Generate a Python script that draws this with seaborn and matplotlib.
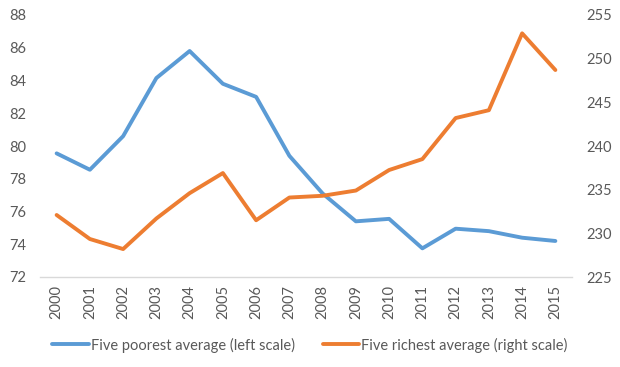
import matplotlib
matplotlib.use("Agg")
import matplotlib.pyplot as plt
import seaborn as sns
import pandas as pd

years = list(range(2000, 2016))
poorest = [79.55, 78.55, 80.6, 84.15, 85.8, 83.8, 83.0, 79.4, 77.1, 75.4, 75.55, 73.75, 74.95, 74.8, 74.4, 74.2]
richest = [232.1, 229.35, 228.2, 231.7, 234.6, 236.9, 231.5, 234.1, 234.3, 234.9, 237.25, 238.5, 243.2, 244.1, 252.9, 248.7]

labels = ["Five poorest average (left scale)", "Five richest average (right scale)"]
colors = ["#5B9BD5", "#ED7D31"]

df = pd.DataFrame({"year": years, "poorest": poorest, "richest": richest})

sns.set_style("white")
plt.rcParams["font.family"] = ["Lato", "DejaVu Sans"]
text_color = "#595959"

fig = plt.figure(figsize=(6.2, 3.67), dpi=100)
ax = fig.add_axes([40 / 620, 1 - 277 / 367, 532 / 620, 262 / 367])
ax2 = ax.twinx()

sns.lineplot(data=df, x="year", y="poorest", ax=ax, color=colors[0], linewidth=2.8, label=labels[0], legend=False)
sns.lineplot(data=df, x="year", y="richest", ax=ax2, color=colors[1], linewidth=2.8, label=labels[1], legend=False)

ax.set_xlim(1999.5, 2015.5)
ax.set_ylim(72, 88)
ax2.set_ylim(225, 255)
ax.set_yticks(range(72, 89, 2))
ax2.set_yticks(range(225, 256, 5))
ax.set_xticks(years)
ax.set_xticklabels([str(y) for y in years], rotation=90)

for a in (ax, ax2):
    a.set_xlabel("")
    a.set_ylabel("")
    for s in a.spines.values():
        s.set_visible(False)
    a.tick_params(length=0, labelsize=10.5, labelcolor=text_color)
ax.spines["bottom"].set_visible(True)
ax.spines["bottom"].set_color("#d9d9d9")
ax.spines["bottom"].set_linewidth(1)
ax.tick_params(axis="y", pad=10)
ax.tick_params(axis="x", pad=6)
ax2.tick_params(axis="y", pad=10)

h1, l1 = ax.get_legend_handles_labels()
h2, l2 = ax2.get_legend_handles_labels()
leg = fig.legend(h1 + h2, l1 + l2, loc="center", bbox_to_anchor=(0.5, 1 - 345 / 367), ncol=2,
                 frameon=False, fontsize=10.5, handlelength=2.5, handletextpad=0.15, columnspacing=1.9)
for t in leg.get_texts():
    t.set_color(text_color)

fig.savefig("out.png", dpi=100)
